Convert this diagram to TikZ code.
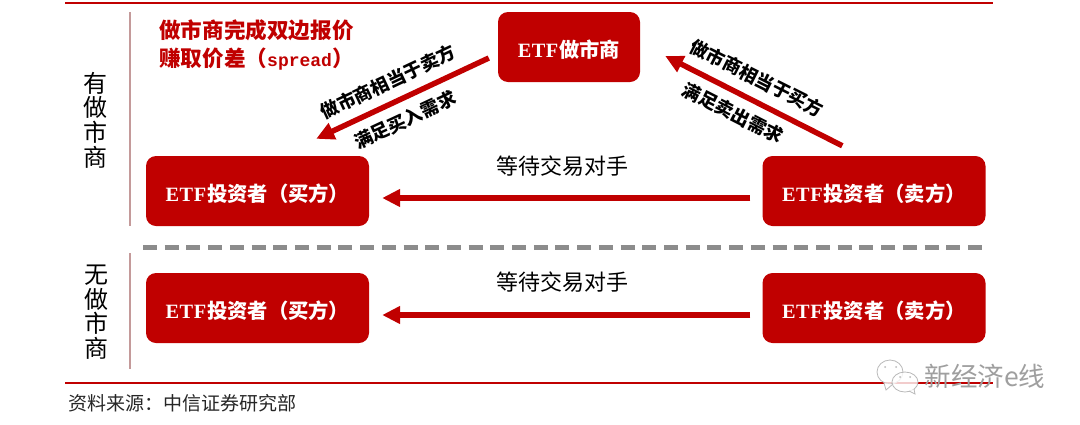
\documentclass[tikz,border=0pt]{standalone}
\usepackage{fontspec}
\setmainfont{Liberation Serif}
\newfontfamily\cjk{Noto Sans CJK SC}
\newfontfamily\latinpart{Liberation Serif}
\newfontfamily\spreadpart{Liberation Mono}
\usetikzlibrary{arrows.meta}
\definecolor{boxRed}{HTML}{C00000}
\definecolor{sideRule}{HTML}{C49A9A}
\definecolor{dashGray}{HTML}{8C8C8C}
\newcommand{\etfword}{{\latinpart\bfseries E\kern.5pt T\kern.5pt F\kern1pt}}
\tikzset{
	party/.style={fill=boxRed,rounded corners=10pt,minimum height=70pt,inner sep=0pt,text=white,font=\cjk\bfseries\fontsize{20.3}{21}\selectfont,text height=24pt,text depth=3pt},
	flow/.style={draw=boxRed,line width=5.5pt,-{Triangle[length=18pt,width=17pt]}},
	note/.style={inner sep=0pt,font=\cjk\bfseries\fontsize{18.3}{18.3}\selectfont},
	wait/.style={inner sep=0pt,font=\cjk\fontsize{22}{22}\selectfont},
	side/.style={inner sep=0pt,align=center,font=\cjk\fontsize{24}{24.6}\selectfont},
	redrule/.style={draw=boxRed,line width=1.5pt},
	siderule/.style={draw=sideRule,line width=1.5pt},
	bubble/.style={draw=gray!55,line width=.8pt,fill=white,fill opacity=.8}
}

\begin{document}
\begin{tikzpicture}[x=1pt,y=-1pt]
	\useasboundingbox (0,0) rectangle (1080,424);
	% frame lines
	\draw[redrule] (65,3) -- (993,3);
	\draw[redrule] (65,383) -- (993,383);
	\draw[siderule] (130,12) -- (130,226);
	\draw[siderule] (130,253) -- (130,369);
	\draw[draw=dashGray,line width=5pt,dash pattern=on 14pt off 7.71pt] (143,247) -- (982,247);

	% boxes
	\node[party,minimum width=142pt] (maker) at (569,47) {\etfword 做市商};
	\node[party,minimum width=223pt] (buyerA) at (257.5,191) {\etfword 投资者（买方）};
	\node[party,minimum width=223pt] (sellerA) at (874,191) {\etfword 投资者（卖方）};
	\node[party,minimum width=223pt] (buyerB) at (257.5,308) {\etfword 投资者（买方）};
	\node[party,minimum width=223pt] (sellerB) at (874,308) {\etfword 投资者（卖方）};

	% arrows
	\draw[flow] ([xshift=-9pt,yshift=-11pt]maker.west) -- ([xshift=-53pt,yshift=17pt]buyerA.north east);
	\draw[flow] ([xshift=80pt,yshift=10pt]sellerA.north west) -- ([xshift=25pt,yshift=-9pt]maker.east);
	\draw[flow] ([xshift=-12pt,yshift=-7pt]sellerA.west) -- ([xshift=13pt,yshift=-7pt]buyerA.east);
	\draw[flow] ([xshift=-12pt,yshift=-7pt]sellerB.west) -- ([xshift=13pt,yshift=-7pt]buyerB.east);

	% labels
	\node[side] (withMaker) at (95.5,120) {有\\做\\市\\商};
	\node[side] (noMaker) at (96,312) {无\\做\\市\\商};
	\node[note,text=boxRed,anchor=west,align=left,font=\cjk\bfseries\fontsize{21.6}{28}\selectfont] (spreadNote) at (159,45) {做市商完成双边报价\\赚取价差（{\spreadpart\fontsize{18}{28}\selectfont spread}）};
	\node[note,rotate=25.3] (leftUp) at (388,82) {做市商相当于卖方};
	\node[note,rotate=25] (leftDown) at (405,120) {满足买入需求};
	\node[note,rotate=-26.8] (rightUp) at (757,78) {做市商相当于买方};
	\node[note,rotate=-27] (rightDown) at (733,113) {满足卖出需求};
	\node[wait] (waitA) at (562,166) {等待交易对手};
	\node[wait] (waitB) at (562,282) {等待交易对手};
	\node[inner sep=0pt,anchor=west,font=\cjk\fontsize{19}{19}\selectfont,text=black!85] (source) at (68,403) {资料来源：中信证券研究部};

	% watermark
	\draw[bubble] (890,372) ellipse (13pt and 12pt);
	\draw[bubble] (884,383) -- (886,390) -- (893,384);
	\draw[bubble] (905,382) ellipse (13pt and 10pt);
	\draw[bubble] (909,391) -- (915,394) -- (914,389);
	\foreach \ex/\ey in {885/367,896/367,900/377,910/377}
		\fill[gray!55] (\ex,\ey) circle (1pt);
	\node[inner sep=0pt,text=gray!75,font=\cjk\fontsize{26.5}{27}\selectfont] (mark) at (985,376) {新经济e线};
\end{tikzpicture}
\end{document}
